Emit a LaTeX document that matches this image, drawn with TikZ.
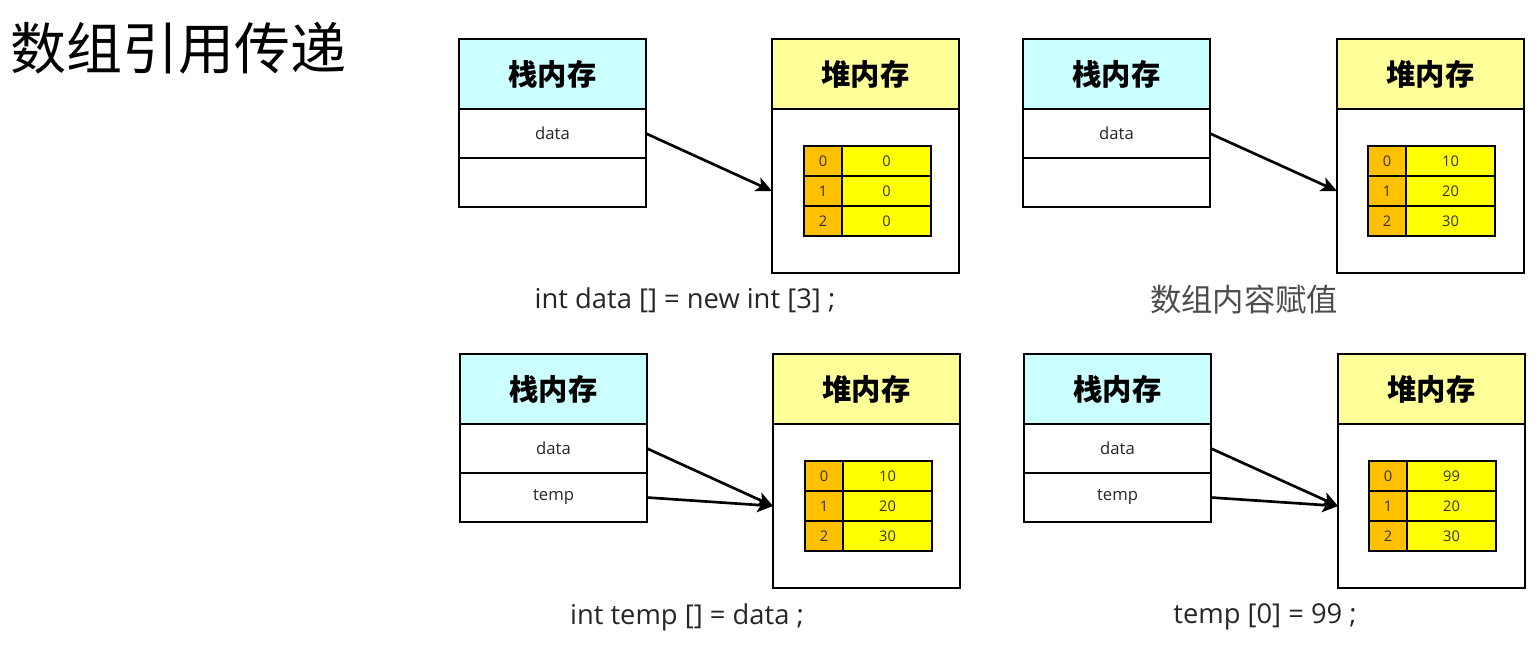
\documentclass[tikz,border=0pt]{standalone}
\usepackage{fontspec}
\setmainfont{Open Sans}
\newfontfamily\cjk{Noto Sans CJK SC}
\usetikzlibrary{positioning, arrows.meta}
\definecolor{stackcol}{HTML}{CCFFFF}
\definecolor{heapcol}{HTML}{FFFF99}
\definecolor{idxcol}{HTML}{FFC000}
\definecolor{valcol}{HTML}{FFFF00}
\tikzset{
  stackhead/.style = {draw, fill=stackcol, minimum width=140.25pt, minimum height=52.5pt, inner sep=0pt, outer sep=0pt, line width=0.9pt, font=\cjk\bfseries\fontsize{22}{22}\selectfont},
  heaphead/.style  = {stackhead, fill=heapcol},
  slot/.style      = {draw, fill=white, minimum width=140.25pt, minimum height=36.75pt, inner sep=0pt, outer sep=0pt, line width=0.9pt, text=black!85, font=\fontsize{12.5}{12.5}\selectfont},
  heapbody/.style  = {slot, minimum height=123pt},
  idx/.style       = {draw, fill=idxcol, minimum width=28.5pt, minimum height=22.5pt, inner sep=0pt, outer sep=0pt, line width=0.8pt, text=black!80, font=\fontsize{11}{11}\selectfont},
  val/.style       = {idx, fill=valcol, minimum width=66.75pt},
  ref/.style       = {draw, line width=2pt, -{Stealth[length=12pt, width=11pt, inset=3pt]}},
  caption/.style   = {text=black!85, font=\fontsize{20.5}{20.5}\selectfont}
}

\begin{document}
\begin{tikzpicture}[x=0.75pt, y=-0.75pt]
\useasboundingbox (0,0) rectangle (1540,660);
\node [anchor=west, font=\cjk\fontsize{42}{42}\selectfont] (title) at (6,48) {数组引用传递};
% new int [3]
\node [stackhead] (s1) at (552.5,74) {栈内存};
\node [slot, below = 0pt of s1] (s1data) {data};
\node [slot, below = 0pt of s1data] (s1free) {};
\node [heaphead] (h1) at (865.5,74) {堆内存};
\node [heapbody, below = 0pt of h1] (h1body) {};
\foreach \i/\v in {0/0, 1/0, 2/0} {
  \node [idx] (a1i\i) at (823,161+30*\i) {\i};
  \node [val, right = 0pt of a1i\i] (a1v\i) {\v};
}
\path[ref] (s1data.east) -- (h1body.west);
\node [caption] (c1) at (685,300) {int data [] = new int [3] ;};
% assign contents
\node [stackhead] (s2) at (1116.5,74) {栈内存};
\node [slot, below = 0pt of s2] (s2data) {data};
\node [slot, below = 0pt of s2data] (s2free) {};
\node [heaphead] (h2) at (1430.5,74) {堆内存};
\node [heapbody, below = 0pt of h2] (h2body) {};
\foreach \i/\v in {0/10, 1/20, 2/30} {
  \node [idx] (a2i\i) at (1387,161+30*\i) {\i};
  \node [val, right = 0pt of a2i\i] (a2v\i) {\v};
}
\path[ref] (s2data.east) -- (h2body.west);
\node [caption, font=\cjk\fontsize{23.5}{23.5}\selectfont, text=black!70] (c2) at (1244,300) {数组内容赋值};
% temp = data
\node [stackhead] (s3) at (553.5,389) {栈内存};
\node [slot, below = 0pt of s3] (s3data) {data};
\node [slot, below = 0pt of s3data] (s3temp) {temp};
\node [heaphead] (h3) at (866.5,389) {堆内存};
\node [heapbody, below = 0pt of h3] (h3body) {};
\foreach \i/\v in {0/10, 1/20, 2/30} {
  \node [idx] (a3i\i) at (824,476+30*\i) {\i};
  \node [val, right = 0pt of a3i\i] (a3v\i) {\v};
}
\path[ref] (s3data.east) -- (h3body.west);
\path[ref] (s3temp.east) -- (h3body.west);
\node [caption] (c3) at (687,617) {int temp [] = data ;};
% temp[0] = 99
\node [stackhead] (s4) at (1117.5,389) {栈内存};
\node [slot, below = 0pt of s4] (s4data) {data};
\node [slot, below = 0pt of s4data] (s4temp) {temp};
\node [heaphead] (h4) at (1431.5,389) {堆内存};
\node [heapbody, below = 0pt of h4] (h4body) {};
\foreach \i/\v in {0/99, 1/20, 2/30} {
  \node [idx] (a4i\i) at (1388,476+30*\i) {\i};
  \node [val, right = 0pt of a4i\i] (a4v\i) {\v};
}
\path[ref] (s4data.east) -- (h4body.west);
\path[ref] (s4temp.east) -- (h4body.west);
\node [caption] (c4) at (1265,617) {temp [0] = 99 ;};
\end{tikzpicture}
\end{document}
